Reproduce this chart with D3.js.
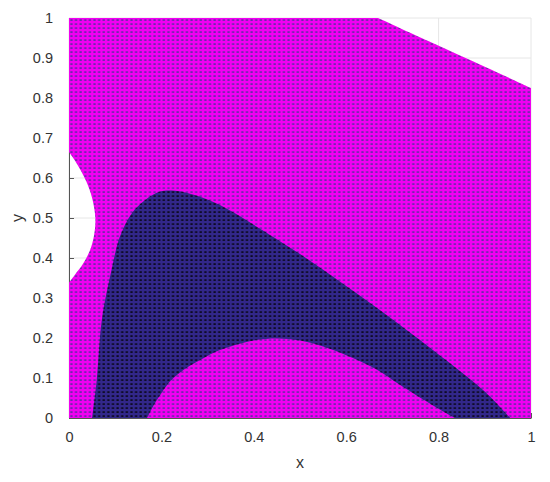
<!DOCTYPE html>
<html lang="en">
<head>
<meta charset="UTF-8">
<title>Region plot</title>
<script src="https://d3js.org/d3.v7.min.js"></script>
<style>
  body { margin: 0; background: #fff; }
  text { font-family: "Liberation Sans", Arial, sans-serif; fill: #333; }
</style>
</head>
<body>
<div id="chart"></div>
<script>
// tick values
var xTicks = [0, 0.2, 0.4, 0.6, 0.8, 1];
var yTicks = [0, 0.1, 0.2, 0.3, 0.4, 0.5, 0.6, 0.7, 0.8, 0.9, 1];

// cut at the top right (white)
var topCut = [[0.669, 1], [0.78, 0.941], [0.9, 0.878], [1, 0.825]];

// notch on the left edge (white)
var leftNotch = [[0, 0.665], [0.012, 0.645], [0.024, 0.622], [0.038, 0.59], [0.05, 0.55],
                 [0.057, 0.5], [0.054, 0.455], [0.045, 0.418], [0.03, 0.385], [0.014, 0.36], [0, 0.338]];

// dark band: outer edge, then inner edge
var outerEdge = [[0.05, 0], [0.06, 0.095], [0.071, 0.245], [0.092, 0.37], [0.11, 0.453],
                 [0.136, 0.512], [0.165, 0.545], [0.197, 0.566], [0.23, 0.568], [0.284, 0.553],
                 [0.341, 0.524], [0.4, 0.483], [0.5, 0.41], [0.6, 0.33], [0.7, 0.247],
                 [0.818, 0.143], [0.9, 0.066], [0.955, 0]];
var innerEdge = [[0.169, 0], [0.185, 0.035], [0.2, 0.062], [0.22, 0.093], [0.25, 0.122],
                 [0.284, 0.145], [0.327, 0.17], [0.4, 0.194], [0.45, 0.199], [0.5, 0.194],
                 [0.55, 0.179], [0.6, 0.157], [0.658, 0.126], [0.716, 0.083], [0.75, 0.058],
                 [0.8, 0.023], [0.835, 0]];

var margin = {top: 18, right: 19, bottom: 64, left: 69},
    width = 550 - margin.left - margin.right,
    height = 482 - margin.top - margin.bottom;

var svg = d3.select("#chart")
  .append("svg")
    .attr("width", 550)
    .attr("height", 482)
  .append("g")
    .attr("transform", "translate(" + margin.left + "," + margin.top + ")");

var x = d3.scaleLinear().domain([0, 1]).range([0, width]);
var y = d3.scaleLinear().domain([0, 1]).range([height, 0]);

// marker texture (grid of points, step 0.01)
var cw = x(0.01) - x(0), ch = y(0) - y(0.01);
var defs = svg.append("defs");
function texture(id, line, cell) {
  var p = defs.append("pattern")
    .attr("id", id)
    .attr("patternUnits", "userSpaceOnUse")
    .attr("width", cw).attr("height", ch);
  p.append("rect").attr("width", cw).attr("height", ch).attr("fill", line);
  p.append("rect").attr("x", 1.3).attr("y", 1.2)
    .attr("width", cw - 2.4).attr("height", ch - 2.2).attr("fill", cell);
}
texture("pm", "#f200f2", "#6a2aa8");
texture("pd", "#32278a", "#0c0a22");

// grid
svg.append("g").selectAll("line.gx").data(xTicks).enter().append("line")
  .attr("x1", function(d) { return x(d); }).attr("x2", function(d) { return x(d); })
  .attr("y1", 0).attr("y2", height)
  .attr("stroke", "#e6e6e6").attr("stroke-width", 1);
svg.append("g").selectAll("line.gy").data(yTicks).enter().append("line")
  .attr("y1", function(d) { return y(d); }).attr("y2", function(d) { return y(d); })
  .attr("x1", 0).attr("x2", width)
  .attr("stroke", "#e6e6e6").attr("stroke-width", 1);

// axes
var xAxis = svg.append("g")
  .attr("transform", "translate(0," + height + ")")
  .call(d3.axisBottom(x).tickValues(xTicks).tickFormat(d3.format("")).tickSizeInner(-5).tickSizeOuter(0).tickPadding(14));
var yAxis = svg.append("g")
  .call(d3.axisLeft(y).tickValues(yTicks).tickFormat(d3.format("")).tickSizeInner(-5).tickSizeOuter(0).tickPadding(16));
[xAxis, yAxis].forEach(function(a) {
  a.select(".domain").attr("stroke", "#555");
  a.selectAll(".tick line").attr("stroke", "#555");
  a.selectAll("text").style("font-size", "14.5px").attr("fill", "#333");
});

var line = d3.line()
  .x(function(d) { return x(d[0]); })
  .y(function(d) { return y(d[1]); });
var smooth = d3.line()
  .curve(d3.curveCatmullRom)
  .x(function(d) { return x(d[0]); })
  .y(function(d) { return y(d[1]); });

// magenta region: the box minus the two white cuts
var magPath = line([[0, 0], [1, 0]]) +
  smooth(topCut.slice().reverse()).replace("M", "L") +
  line([[0, 1]]).replace("M", "L") +
  smooth(leftNotch).replace("M", "L") + "Z";
svg.append("path").attr("d", magPath).attr("fill", "url(#pm)");

// dark band
var darkPath = smooth(outerEdge) +
  smooth(innerEdge.slice().reverse()).replace("M", "L") + "Z";
svg.append("path").attr("d", darkPath).attr("fill", "url(#pd)");

// labels
svg.append("text")
  .attr("x", width / 2).attr("y", height + 50)
  .attr("text-anchor", "middle").style("font-size", "16px").text("x");
svg.append("text")
  .attr("transform", "translate(-46," + (height / 2) + ") rotate(-90)")
  .attr("text-anchor", "middle").style("font-size", "16px").text("y");
</script>
</body>
</html>
